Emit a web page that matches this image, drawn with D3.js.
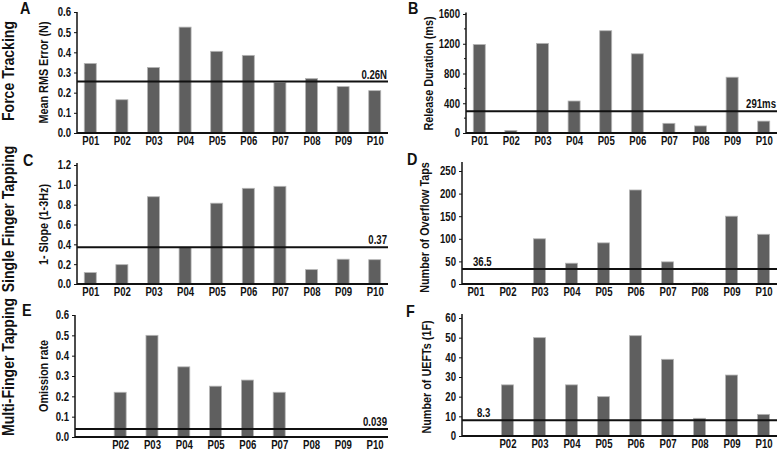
<!DOCTYPE html>
<html><head><meta charset="utf-8">
<script src="https://cdn.jsdelivr.net/npm/d3@7"></script>
<style>
body{margin:0;background:#fff;}
svg{display:block;}
</style></head>
<body><svg id="c" width="778" height="451"></svg>
<script>
const categories = ["P01","P02","P03","P04","P05","P06","P07","P08","P09","P10"];
const tickLabelsAll = ["P01","P02","P03","P04","P05","P06","P07","P08","P09","P10"];
const tickLabelsNoP01 = ["","P02","P03","P04","P05","P06","P07","P08","P09","P10"];

const forceError = [0.345,0.165,0.325,0.525,0.405,0.385,0.25,0.27,0.23,0.21];
const releaseDuration = [1190,35,1205,430,1375,1065,130,95,750,160];
const slope = [0.115,0.195,0.88,0.37,0.815,0.965,0.985,0.145,0.25,0.245];
const overflowTaps = [0,2,100,46,91,208,49,2,150,110];
const omissionRate = [null,0.22,0.5,0.345,0.25,0.28,0.22,0,0,0];
const uefts = [null,26,50,26,20,51,39,9,31,11];

const meanValues = [0.255, 291, 0.37, 33, 0.039, 8];
const meanLabels = ["0.26N","291ms","0.37","36.5","0.039","8.3"];

const ticksA = [0,0.1,0.2,0.3,0.4,0.5,0.6];
const ticksB = [0,400,800,1200,1600];
const ticksC = [0,0.2,0.4,0.6,0.8,1.0,1.2];
const ticksD = [0,50,100,150,200,250];
const ticksE = [0,0.1,0.2,0.3,0.4,0.5,0.6];
const ticksF = [0,10,20,30,40,50,60];

const rowLabels = ["Force Tracking","Single Finger Tapping","Multi-Finger Tapping"];
const panelLetters = ["A","B","C","D","E","F"];
const yTitles = ["Mean RMS Error (N)","Release Duration (ms)","1- Slope (1-3Hz)","Number of Overflow Taps","Omission rate","Number of UEFTs (1F)"];

const FONT = "'Liberation Sans',Arial,sans-serif";
const SX = 0.8; // horizontal condensation of text
const svg = d3.select("#c").style("font-family", FONT);

const panels = [
  {x0:77, x1:388, yTop:12, y0:133, dmax:0.6, ticks:ticksA, fmt:d3.format(".1f"), vals:forceError, labels:tickLabelsAll, meanSide:"right", meanDx:0, titleX:48, letterX:20, letterY:14},
  {x0:466, x1:777, yTop:14, y0:133, dmax:1620, ticks:ticksB, minor:[200,600,1000,1400], fmt:d3.format("d"), vals:releaseDuration, labels:tickLabelsAll, meanSide:"right", meanDx:0, titleX:433, letterX:408, letterY:14},
  {x0:77, x1:388, yTop:165, y0:284, dmax:1.22, ticks:ticksC, fmt:d3.format(".1f"), vals:slope, labels:tickLabelsAll, meanSide:"right", meanDx:0, titleX:48, letterX:23, letterY:166},
  {x0:462, x1:777, yTop:171, y0:284, dmax:270, ticks:ticksD, fmt:d3.format("d"), vals:overflowTaps, labels:tickLabelsAll, meanSide:"left", meanDx:11, titleX:429, letterX:407, letterY:165},
  {x0:75, x1:388, yTop:315, y0:437, dmax:0.6, ticks:ticksE, fmt:d3.format(".1f"), vals:omissionRate, labels:tickLabelsNoP01, meanSide:"right", meanDx:0, titleX:48, letterX:22, letterY:316},
  {x0:462, x1:777, yTop:318, y0:436, dmax:62, ticks:ticksF, fmt:d3.format("d"), vals:uefts, labels:tickLabelsNoP01, meanSide:"left", meanDx:15, titleX:431, letterX:406, letterY:317}
];

panels.forEach((p,i)=>{
  const g = svg.append("g");
  const topTick = p.ticks[p.ticks.length-1];
  const y = d3.scaleLinear().domain([0, topTick]).range([p.y0, p.yTop]);
  const x = d3.scalePoint().domain(categories).range([p.x0, p.x1]).padding(0.42);
  const bw = 12;

  g.selectAll("rect.bar").data(categories.map((c,j)=>({c, v:p.vals[j]})).filter(d=>d.v!==null && d.v>0))
    .enter().append("rect")
    .attr("x", d=>x(d.c)-bw/2).attr("width", bw)
    .attr("y", d=>y(d.v)).attr("height", d=>p.y0 - y(d.v))
    .attr("fill","#5f5f5f").attr("stroke","#b5b5b5").attr("stroke-width",0.8);

  const yAxis = d3.axisLeft(y).tickValues(p.ticks).tickFormat(p.fmt).tickSize(3).tickPadding(3);
  const ya = g.append("g").attr("transform",`translate(${p.x0},0)`).call(yAxis);
  ya.select(".domain").remove();
  ya.selectAll("text").attr("font-size",12).attr("font-weight","bold").attr("fill","#111")
    .attr("font-family",FONT).attr("x",-6/SX).attr("transform",`scale(${SX},1)`);
  ya.selectAll("line").attr("stroke","#111");
  if (p.minor) {
    g.selectAll("line.minor").data(p.minor).enter().append("line")
      .attr("x1",p.x0-2).attr("x2",p.x0).attr("y1",d=>y(d)).attr("y2",d=>y(d)).attr("stroke","#111");
  }
  g.append("line").attr("x1",p.x0).attr("x2",p.x0).attr("y1",p.y0).attr("y2",y(p.dmax)).attr("stroke","#111").attr("stroke-width",1.5);

  g.append("line").attr("x1",p.x0).attr("x2",p.x1).attr("y1",p.y0).attr("y2",p.y0).attr("stroke","#111").attr("stroke-width",2);
  const xAxis = d3.axisBottom(x).tickSize(0).tickPadding(2).tickFormat((d,j)=>p.labels[j]);
  const xa = g.append("g").attr("transform",`translate(0,${p.y0+1})`).call(xAxis);
  xa.select(".domain").remove();
  xa.selectAll("text").attr("font-size",12).attr("font-weight","bold").attr("fill","#111")
    .attr("font-family",FONT).attr("transform",`scale(${SX},1)`);

  const my = y(meanValues[i]);
  g.append("line").attr("x1",p.x0).attr("x2",p.x1).attr("y1",my).attr("y2",my).attr("stroke","#111").attr("stroke-width",2);
  const mx = p.meanSide==="right" ? p.x1-1 : p.x0+p.meanDx;
  g.append("text").attr("transform",`translate(${mx},${my-3}) scale(${SX},1)`)
    .attr("text-anchor", p.meanSide==="right" ? "end" : "start")
    .attr("font-size",12).attr("font-weight","bold").attr("fill","#111")
    .text(meanLabels[i]);

  const cy = (p.y0 + p.yTop)/2;
  g.append("text").attr("transform",`translate(${p.titleX},${cy}) rotate(-90) scale(${SX},1)`)
    .attr("text-anchor","middle").attr("font-size",13.5).attr("font-weight","bold").attr("fill","#111")
    .text(yTitles[i]);

  g.append("text").attr("transform",`translate(${p.letterX},${p.letterY}) scale(0.9,1)`).attr("font-size",16).attr("font-weight","bold").attr("fill","#111")
    .text(panelLetters[i]);
});

const rowCenters = [71, 219, 367];
rowLabels.forEach((t,i)=>{
  svg.append("text").attr("transform",`translate(14,${rowCenters[i]}) rotate(-90) scale(0.88,1)`)
    .attr("text-anchor","middle").attr("font-size",16).attr("font-weight","bold").attr("fill","#111").text(t);
});
</script></body></html>
